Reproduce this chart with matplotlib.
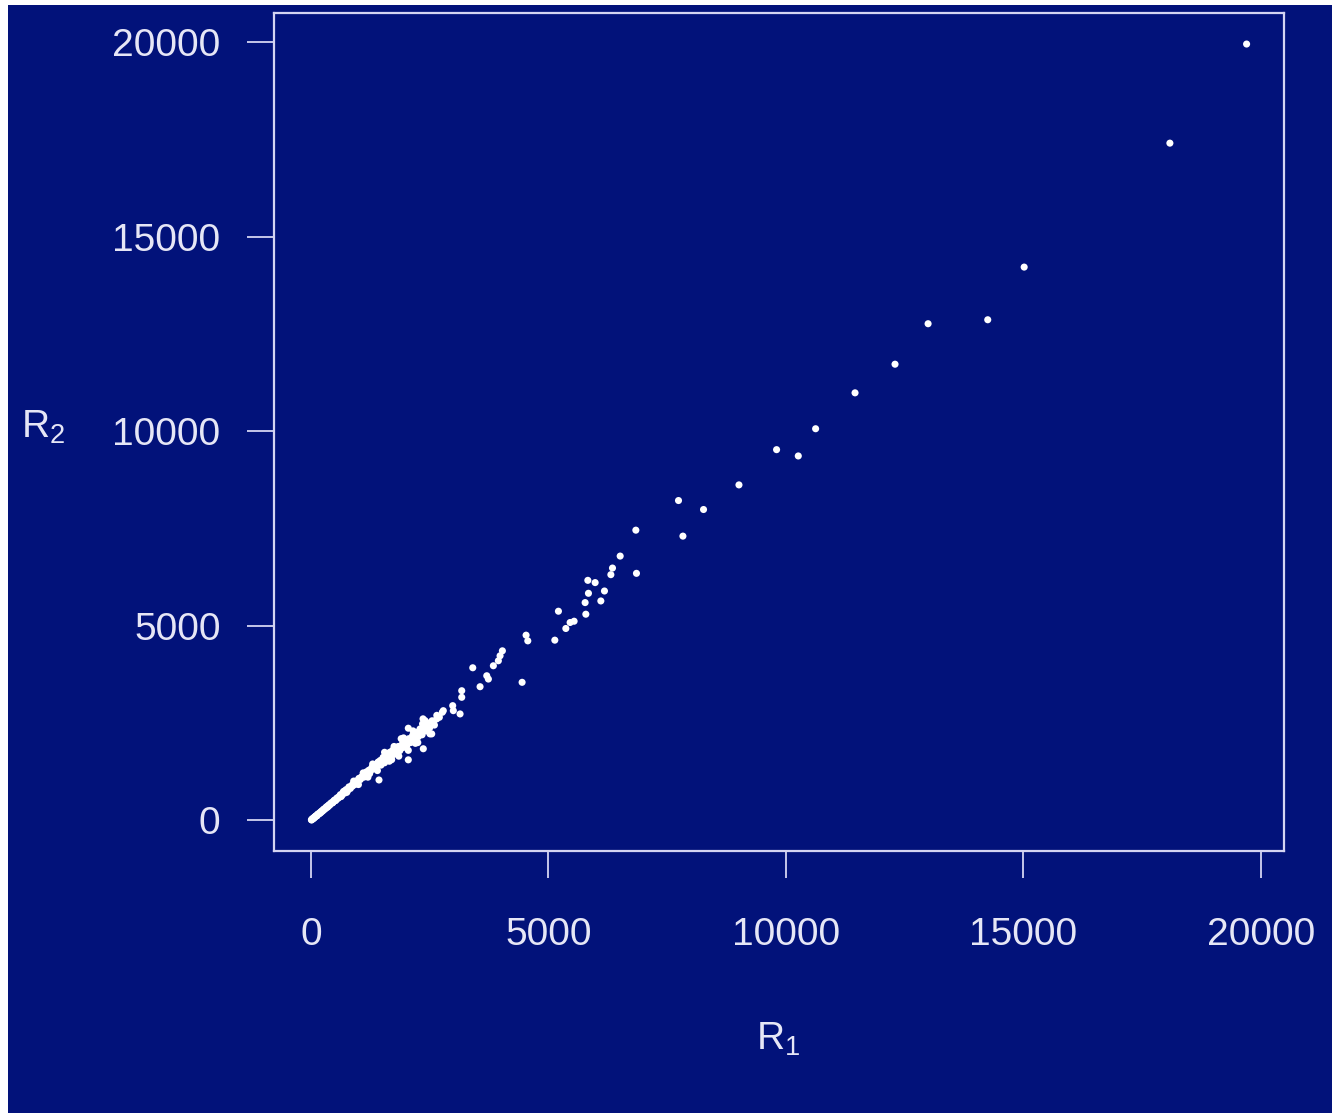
import numpy as np
import matplotlib
matplotlib.use("Agg")
import matplotlib.pyplot as plt
from matplotlib.patches import Rectangle

plt.rcParams['font.family'] = ['Liberation Sans', 'DejaVu Sans']
plt.rcParams['mathtext.default'] = 'regular'

# dense band near the origin
r1_low = [10, 25, 40, 55, 70, 90, 110, 130, 150, 170, 190, 210, 235, 260, 285, 310, 335, 360, 390, 420, 450, 480, 510, 540, 570, 600,
          15, 35, 60, 80, 100, 125, 145, 175, 200, 225, 250, 275, 300, 330, 355, 380, 405, 435, 465, 495, 525, 555, 585]
r2_low = [15, 30, 38, 62, 75, 85, 120, 125, 160, 165, 200, 215, 230, 275, 280, 325, 330, 375, 385, 440, 445, 500, 505, 560, 565, 620,
          10, 45, 50, 90, 110, 115, 160, 180, 190, 240, 245, 290, 300, 350, 345, 400, 410, 455, 460, 520, 515, 580, 590]

r1_mid = [620, 650, 680, 710, 740, 770, 800, 830, 860, 890, 920, 950, 980, 1010, 1040, 1070, 1100, 1130, 1160, 1190, 1220, 1250,
          1280, 1310, 1340, 1370, 1400, 1430, 1460, 1490,
          635, 695, 755, 815, 875, 935, 995, 1055, 1115, 1175, 1235, 1295, 1355, 1415, 1475,
          900, 1000, 1100, 1200, 1300, 1400]
r2_mid = [660, 640, 730, 700, 790, 760, 860, 820, 900, 940, 920, 1010, 990, 1080, 1050, 1120, 1170, 1140, 1230, 1200, 1290, 1260,
          1350, 1320, 1420, 1380, 1470, 1430, 1540, 1500,
          610, 750, 720, 830, 880, 990, 1020, 1100, 1110, 1250, 1200, 1380, 1340, 1500, 1420,
          1010, 920, 1220, 1110, 1450, 1280]

r1_upper = [1520, 1550, 1580, 1600, 1630, 1660, 1690, 1720, 1750, 1780, 1810, 1840, 1870, 1900, 1930, 1960, 1990, 2020, 2060,
            2100, 2140, 2180, 2220, 2260, 2300, 2340, 2380, 2420, 2460, 2500, 2550, 2600, 2650,
            1433, 2050, 2366, 2050, 2507, 2402, 2360, 2297, 2543, 2155, 2704,
            1550, 1650, 1750, 1850, 1950, 2050, 2150, 2250, 2350, 1700, 1900, 2200]
r2_upper = [1620, 1480, 1560, 1700, 1640, 1750, 1620, 1800, 1700, 1840, 1760, 1900, 1790, 1850, 1980, 1880, 2000, 1930, 2100,
            2000, 2180, 2080, 2260, 2150, 2330, 2200, 2420, 2300, 2500, 2380, 2560, 2450, 2700,
            1038, 1556, 1841, 2369, 2223, 2564, 2610, 2351, 2223, 2138, 2650,
            1750, 1520, 1900, 1650, 2120, 1800, 2300, 2000, 2480, 1560, 2100, 1980]

# scattered points further out
r1_out = [2787, 2648, 2577, 2985, 2998, 3140, 2767, 3175, 3175, 3561, 3702, 3736, 3407, 4031, 3982, 3946, 3841, 4446,
          4530, 4566, 5135, 5211, 5367, 5457, 5541, 5788, 5773, 6104, 5843, 6180, 5830, 5984, 6315, 6349, 6511, 6841,
          6854, 7739, 7832, 8266, 9012, 9804, 10261, 10626, 11456, 12298, 12994, 14250, 15017, 18085, 19700]
r2_out = [2820, 2608, 2523, 2949, 2820, 2736, 2779, 3333, 3164, 3436, 3718, 3633, 3923, 4359, 4231, 4103, 3975, 3549,
          4761, 4615, 4633, 5377, 4933, 5087, 5120, 5300, 5599, 5641, 5838, 5897, 6171, 6113, 6317, 6487, 6795, 7461,
          6351, 8223, 7308, 7992, 8625, 9531, 9369, 10069, 10992, 11728, 12769, 12871, 14225, 17412, 19960]

r1 = np.array(r1_low + r1_mid + r1_upper + r1_out)
r2 = np.array(r2_low + r2_mid + r2_upper + r2_out)

bg = '#02127a'
fg = '#e6e6f6'

fig = plt.figure(figsize=(13.32, 11.13), dpi=100)
fig.patch.set_facecolor('white')
fig.patches.append(Rectangle((8 / 1332, 0), 1 - 8 / 1332, 1 - 5 / 1113, transform=fig.transFigure,
                             facecolor=bg, edgecolor='none', zorder=-10))

ax = fig.add_axes([274 / 1332, 262 / 1113, 1010 / 1332, 838 / 1113])
ax.set_zorder(5)
ax.set_facecolor(bg)
ax.scatter(r1, r2, s=26, color='white', edgecolors='none', zorder=3)
ax.margins(0.04)

ax.set_xticks([0, 5000, 10000, 15000, 20000])
ax.set_yticks([0, 5000, 10000, 15000, 20000])
for sp in ax.spines.values():
    sp.set_color('#d4d4f2')
    sp.set_linewidth(1.6)
ax.tick_params(axis='both', colors='#d4d4f2', labelcolor=fg, labelsize=28, length=19.5, width=1.3)
ax.tick_params(axis='x', pad=28)
ax.tick_params(axis='y', pad=19)

ax.set_xlabel('R$_1$', fontsize=28, color=fg)
ax.set_ylabel('R$_2$', fontsize=28, color=fg, rotation=0, ha='center', va='center')
ax.xaxis.set_label_coords(0.499, -0.202)
ax.yaxis.set_label_coords(-0.2287, 0.506)

fig.savefig('out.png', dpi=100, facecolor=fig.get_facecolor())
